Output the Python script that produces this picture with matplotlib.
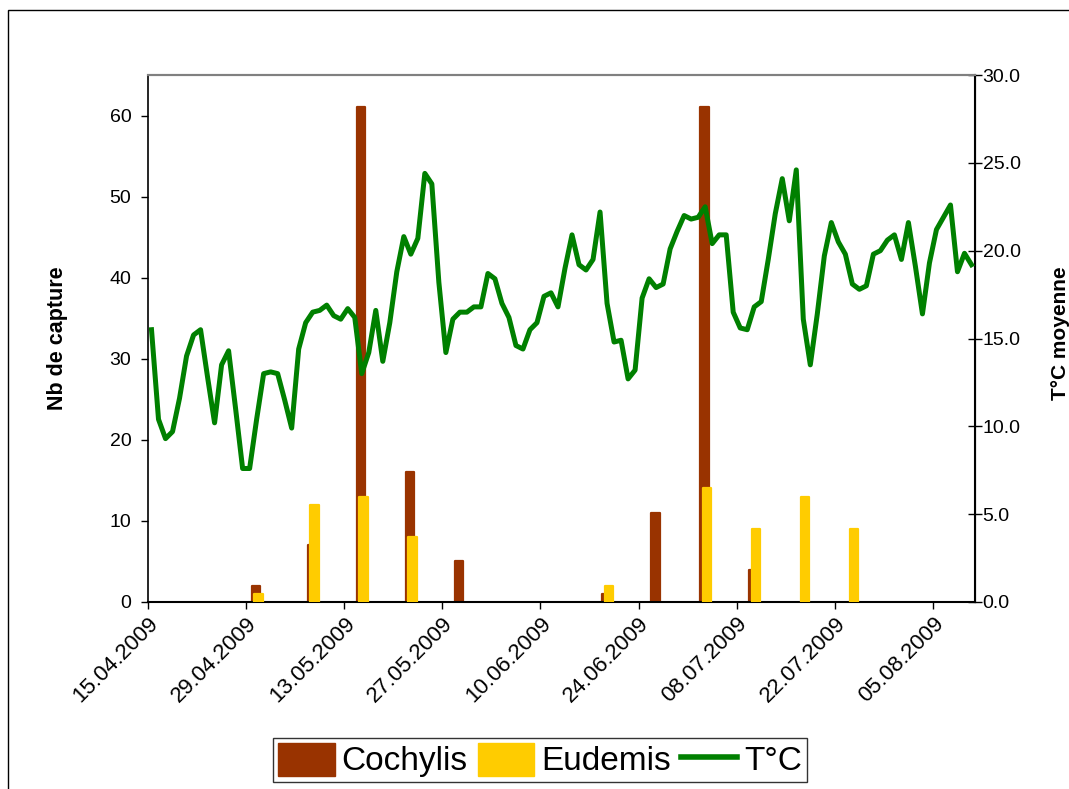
#Imports
import numpy as np
import pandas as pd
import matplotlib
matplotlib.use('Agg')
import matplotlib.pyplot as plt
import matplotlib.dates as mdates
from matplotlib.patches import Rectangle, Patch
from matplotlib.lines import Line2D

plt.rcParams['font.family'] = ['Liberation Sans', 'DejaVu Sans']

#Data: daily mean temperature from 15.04.2009 to 10.08.2009
temp_start = '2009-04-15'
temp = [15.5, 10.4, 9.3, 9.7, 11.6, 14.0, 15.2, 15.5, 12.8, 10.2,
        13.5, 14.3, 11.0, 7.6, 7.6, 10.4, 13.0, 13.1, 13.0, 11.5,
        9.9, 14.4, 15.9, 16.5, 16.6, 16.9, 16.3, 16.1, 16.7, 16.2,
        13.0, 14.2, 16.6, 13.7, 15.9, 18.8, 20.8, 19.8, 20.7, 24.4,
        23.8, 18.2, 14.2, 16.1, 16.5, 16.5, 16.8, 16.8, 18.7, 18.4,
        17.0, 16.2, 14.6, 14.4, 15.5, 15.9, 17.4, 17.6, 16.8, 19.0,
        20.9, 19.2, 18.9, 19.5, 22.2, 17.0, 14.8, 14.9, 12.7, 13.2,
        17.3, 18.4, 17.9, 18.1, 20.1, 21.1, 22.0, 21.8, 21.9, 22.5,
        20.4, 20.9, 20.9, 16.5, 15.6, 15.5, 16.8, 17.1, 19.5, 22.1,
        24.1, 21.7, 24.6, 16.1, 13.5, 16.4, 19.7, 21.6, 20.5, 19.8,
        18.1, 17.8, 18.0, 19.8, 20.0, 20.6, 20.9, 19.5, 21.6, 19.1,
        16.4, 19.3, 21.2, 21.9, 22.6, 18.8, 19.85, 19.2]

#Trap counts
trap_dates = ['2009-04-30', '2009-05-08', '2009-05-15', '2009-05-22', '2009-05-29',
              '2009-06-19', '2009-06-26', '2009-07-03', '2009-07-10', '2009-07-17',
              '2009-07-24']
cochylis = [2, 7, 61, 16, 5, 1, 11, 61, 4, 0, 0]
eudemis = [1, 12, 13, 8, 0, 2, 0, 14, 9, 13, 9]

tick_dates = ['2009-04-15', '2009-04-29', '2009-05-13', '2009-05-27', '2009-06-10',
              '2009-06-24', '2009-07-08', '2009-07-22', '2009-08-05']

#Colours
c_coch = '#993300'
c_eud = '#FFCC00'
c_temp = '#008000'

W, H = 1069, 789
fig = plt.figure(figsize=(W / 100, H / 100), dpi=100)
ax = fig.add_axes([148 / W, 1 - 602 / H, (975 - 148) / W, (602 - 75) / H])
ax2 = ax.twinx()

temp_x = mdates.date2num(pd.date_range(temp_start, periods=len(temp), freq='D')) + 0.5
trap_x = mdates.date2num(pd.to_datetime(trap_dates)) + 0.5
coch = np.array(cochylis, dtype=float)
eud = np.array(eudemis, dtype=float)

# bars (zero counts are not drawn), round edge gives the soft tops
m = coch > 0
ax.bar(trap_x[m] - 0.1, coch[m], width=1.2, color=c_coch, edgecolor=c_coch,
       linewidth=1.6, joinstyle='round', zorder=2)
m = eud > 0
ax.bar(trap_x[m] + 0.25, eud[m], width=1.2, color=c_eud, edgecolor=c_eud,
       linewidth=1.6, joinstyle='round', zorder=3)

ax2.plot(temp_x, temp, color=c_temp, lw=3.6, solid_joinstyle='round', zorder=4)

#Axes limits and ticks
ax.set_xlim(mdates.date2num(pd.Timestamp('2009-04-15')), mdates.date2num(pd.Timestamp('2009-08-11')))
ax.set_ylim(0, 65)
ax2.set_ylim(0, 30)
ax.set_yticks(range(0, 61, 10))
ax2.set_yticks(np.arange(0, 30.1, 5))
ax2.yaxis.set_major_formatter(matplotlib.ticker.FormatStrFormatter('%.1f'))
ax.set_xticks(mdates.date2num(pd.to_datetime(tick_dates)))
ax.xaxis.set_major_formatter(mdates.DateFormatter('%d.%m.%Y'))
for lab in ax.get_xticklabels():
    lab.set_rotation(45)
    lab.set_ha('right')
    lab.set_va('top')
    lab.set_rotation_mode('anchor')

ax.tick_params(axis='y', direction='out', length=5, width=1, labelsize=14, pad=7)
ax.tick_params(axis='x', direction='out', length=5, width=1, labelsize=16, pad=3)
ax2.tick_params(axis='y', direction='inout', length=10, width=1, labelsize=14, pad=0.5)

for a in (ax, ax2):
    a.spines['top'].set_color('#808080')
    a.spines['top'].set_linewidth(1.5)
ax.spines['left'].set_linewidth(1.2)
ax.spines['bottom'].set_linewidth(1.5)
ax2.spines['right'].set_linewidth(1.5)
ax2.spines['left'].set_visible(False)
ax2.spines['bottom'].set_visible(False)

fig.text(57 / W, 1 - 338 / H, 'Nb de capture', rotation=90, ha='center', va='center',
         fontsize=15.5, fontweight='bold')
fig.text(1060 / W, 1 - 333 / H, 'T°C moyenne', rotation=90, ha='center', va='center',
         fontsize=15, fontweight='bold')

#Legend
handles = [Patch(facecolor=c_coch, edgecolor=c_coch),
           Patch(facecolor=c_eud, edgecolor=c_eud),
           Line2D([0], [0], color=c_temp, lw=4)]
leg = fig.legend(handles, ['Cochylis', 'Eudemis', 'T°C'], loc='center',
                 bbox_to_anchor=(540 / W, 1 - 760 / H), ncol=3, fontsize=24,
                 frameon=True, fancybox=False, edgecolor='black',
                 handlelength=1.7, handleheight=1.15, handletextpad=0.2,
                 columnspacing=0.3, borderpad=0.15, borderaxespad=0)
leg.get_frame().set_linewidth(1)

#Outer chart border
fig.patches.append(Rectangle((8 / W, -0.1), 1.2, 1 - 10 / H + 0.1, transform=fig.transFigure,
                             fill=False, edgecolor='black', linewidth=1))

fig.savefig('out.png', dpi=100)
